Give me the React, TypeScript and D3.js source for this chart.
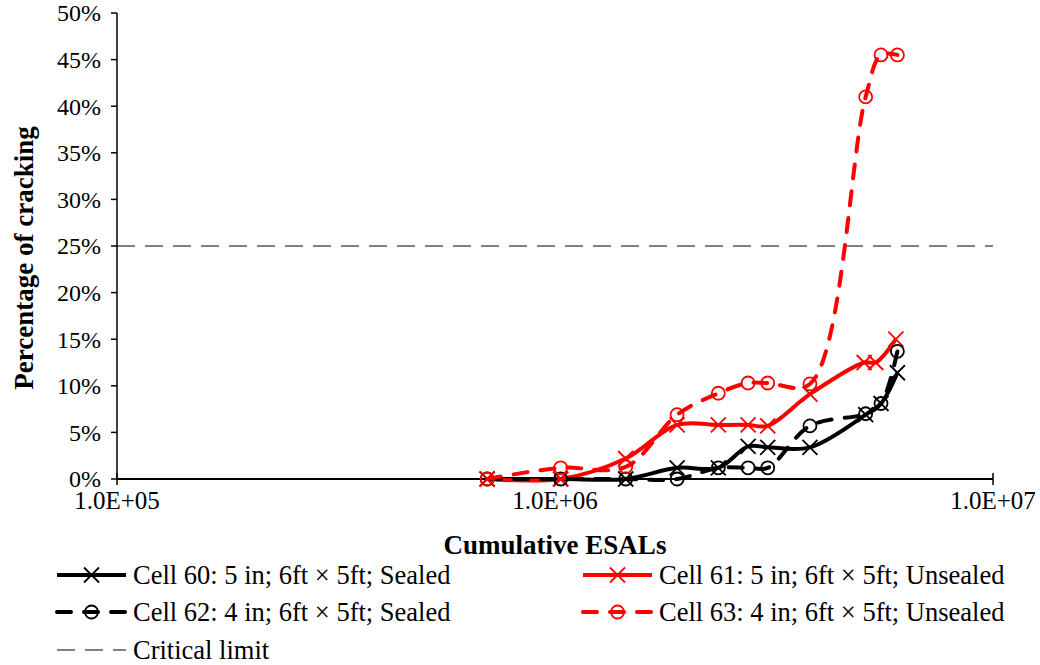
import React from "react";
import * as d3 from "d3";

const esalA = [7.0e5, 1.03e6, 1.45e6, 1.9e6, 2.36e6, 2.76e6, 3.06e6, 3.82e6, 5.12e6, 5.55e6, 6.05e6];
const esalB = [7.0e5, 1.03e6, 1.45e6, 1.9e6, 2.36e6, 2.76e6, 3.06e6, 3.82e6, 5.08e6, 5.4e6, 6.0e6];

const cell60 = [0, 0, 0, 1.2, 1.2, 3.5, 3.4, 3.4, 6.9, 8.1, 11.4];
const cell61 = [0, 0, 2.2, 5.8, 5.8, 5.8, 5.7, 9.1, 12.5, 12.5, 15.0];
const cell62 = [0, 0, 0, 0, 1.2, 1.2, 1.2, 5.7, 7.0, 8.1, 13.7];
const cell63 = [0, 1.2, 1.3, 6.9, 9.2, 10.3, 10.3, 10.2, 41.0, 45.5, 45.5];

const criticalLimit = 25;

const xTicks = [1e5, 1e6, 1e7];
const xTickLabels = ["1.0E+05", "1.0E+06", "1.0E+07"];
const yTicks = [0, 5, 10, 15, 20, 25, 30, 35, 40, 45, 50];

const seriesNames = [
  "Cell 60: 5 in; 6ft \u00d7 5ft; Sealed",
  "Cell 61: 5 in; 6ft \u00d7 5ft; Unsealed",
  "Cell 62: 4 in; 6ft \u00d7 5ft; Sealed",
  "Cell 63: 4 in; 6ft \u00d7 5ft; Unsealed",
];

const FONT = "'Liberation Serif', 'Times New Roman', serif";

type Series = {
  name: string;
  xs: number[];
  ys: number[];
  color: string;
  dashed: boolean;
  marker: "x" | "o";
};

const series: Series[] = [
  { name: seriesNames[0], xs: esalA, ys: cell60, color: "#000000", dashed: false, marker: "x" },
  { name: seriesNames[1], xs: esalB, ys: cell61, color: "#ff0000", dashed: false, marker: "x" },
  { name: seriesNames[2], xs: esalA, ys: cell62, color: "#000000", dashed: true, marker: "o" },
  { name: seriesNames[3], xs: esalA, ys: cell63, color: "#ff0000", dashed: true, marker: "o" },
];

const W = 1040;
const H = 665;
const left = 117;
const right = 993;
const top = 13;
const bottom = 479;

function Marker({ kind, x, y, color }: { kind: "x" | "o"; x: number; y: number; color: string }) {
  if (kind === "x") {
    const s = 7.5;
    return (
      <path
        d={`M${x - s},${y - s}L${x + s},${y + s}M${x - s},${y + s}L${x + s},${y - s}`}
        stroke={color}
        strokeWidth={1.8}
        fill="none"
      />
    );
  }
  return <circle cx={x} cy={y} r={6.5} stroke={color} strokeWidth={1.8} fill="none" />;
}

export default function App() {
  const xScale = d3.scaleLog().domain([1e5, 1e7]).range([left, right]);
  const yScale = d3.scaleLinear().domain([0, 50]).range([bottom, top]);

  const line = d3
    .line<[number, number]>()
    .x((d) => xScale(d[0]))
    .y((d) => yScale(d[1]))
    .curve(d3.curveCatmullRom.alpha(0.5));

  const legendRows = [
    { s: series[0], lx: 57, ly: 575 },
    { s: series[1], lx: 583, ly: 575 },
    { s: series[2], lx: 57, ly: 612 },
    { s: series[3], lx: 583, ly: 612 },
  ];
  const legendLen = 69;

  return (
    <svg width={W} height={H} style={{ position: "absolute", left: 0, top: 0, background: "#fff" }} fontFamily={FONT}>
      <rect x={0} y={0} width={W} height={H} fill="#fff" />
      {/* critical limit */}
      <line
        x1={left}
        x2={right}
        y1={yScale(criticalLimit)}
        y2={yScale(criticalLimit)}
        stroke="#808080"
        strokeWidth={2}
        strokeDasharray="18 10"
      />
      {/* axes */}
      <line x1={left} x2={left} y1={top} y2={bottom} stroke="#000" strokeWidth={1.5} />
      <line x1={left} x2={right} y1={bottom} y2={bottom} stroke="#000" strokeWidth={2} />
      {yTicks.map((t) => (
        <g key={"y" + t}>
          <line x1={left - 6} x2={left} y1={yScale(t)} y2={yScale(t)} stroke="#000" strokeWidth={1.5} />
          <text x={left - 16} y={yScale(t)} dy="0.35em" textAnchor="end" fontSize={24} fill="#000">
            {t + "%"}
          </text>
        </g>
      ))}
      {xTicks.map((t, i) => (
        <g key={"x" + t}>
          <line x1={xScale(t)} x2={xScale(t)} y1={bottom - 6} y2={bottom + 6} stroke="#000" strokeWidth={1.5} />
          <text x={xScale(t)} y={bottom + 21} dy="0.35em" textAnchor="middle" fontSize={25} fill="#000">
            {xTickLabels[i]}
          </text>
        </g>
      ))}
      <text x={555} y={554} textAnchor="middle" fontSize={27} fontWeight="bold" fill="#000">
        Cumulative ESALs
      </text>
      <text
        transform={`translate(33,258) rotate(-90)`}
        textAnchor="middle"
        fontSize={27}
        fontWeight="bold"
        fill="#000"
      >
        Percentage of cracking
      </text>
      {/* series */}
      {series.map((s, si) => {
        const pts: [number, number][] = s.xs.map((x, i) => [x, s.ys[i]]);
        return (
          <g key={"s" + si}>
            <path
              d={line(pts) || ""}
              stroke={s.color}
              strokeWidth={4}
              fill="none"
              strokeDasharray={s.dashed ? "14 13" : undefined}
              strokeLinecap={s.dashed ? "round" : "butt"}
            />
            {pts.map((p, i) => (
              <Marker key={i} kind={s.marker} x={xScale(p[0])} y={yScale(p[1])} color={s.color} />
            ))}
          </g>
        );
      })}
      {/* legend */}
      {legendRows.map((r, i) => (
        <g key={"l" + i}>
          <line
            x1={r.lx}
            x2={r.lx + legendLen}
            y1={r.ly}
            y2={r.ly}
            stroke={r.s.color}
            strokeWidth={4}
            strokeDasharray={r.s.dashed ? "14 13" : undefined}
            strokeLinecap={r.s.dashed ? "round" : "butt"}
          />
          <Marker kind={r.s.marker} x={r.lx + legendLen / 2} y={r.ly} color={r.s.color} />
          <text x={r.lx + legendLen + 7} y={r.ly} dy="0.35em" fontSize={26.5} fill="#000">
            {r.s.name}
          </text>
        </g>
      ))}
      <g>
        <line x1={57} x2={126} y1={650} y2={650} stroke="#808080" strokeWidth={2} strokeDasharray="18 10" />
        <text x={133} y={650} dy="0.35em" fontSize={26.5} fill="#000">
          Critical limit
        </text>
      </g>
    </svg>
  );
}
